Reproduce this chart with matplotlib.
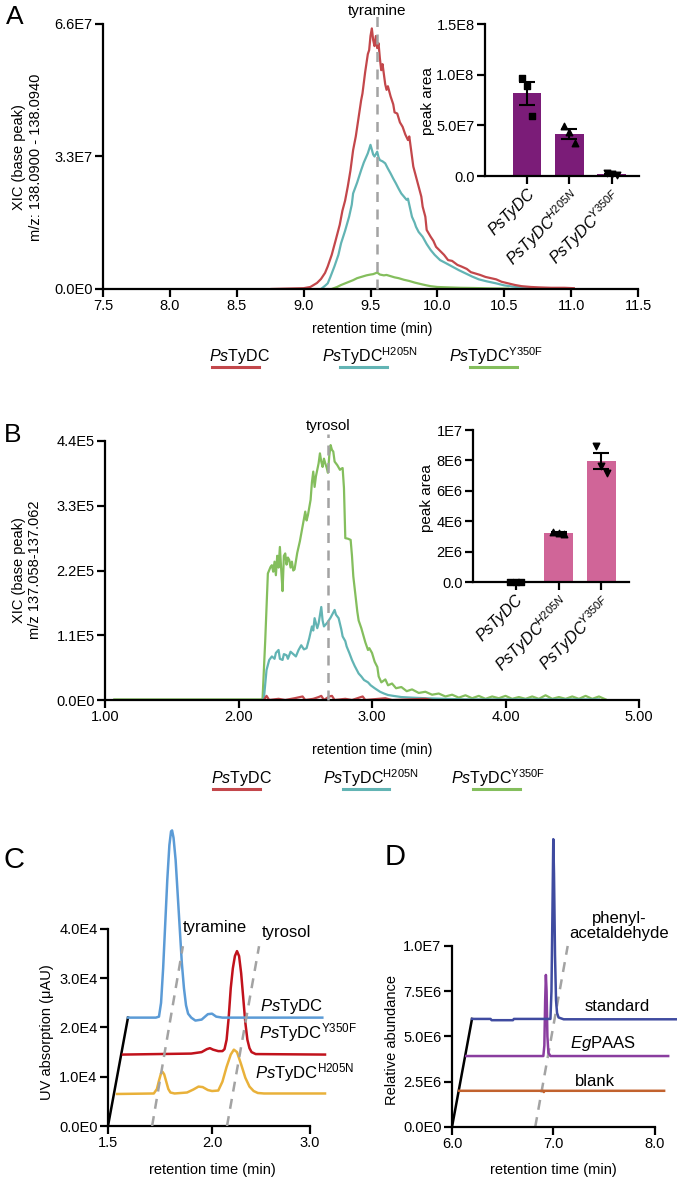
import numpy as np
import matplotlib
matplotlib.use('Agg')
import matplotlib.pyplot as plt
from matplotlib.lines import Line2D

plt.rcParams['font.family'] = ['Liberation Sans', 'DejaVu Sans']
plt.rcParams['mathtext.fontset'] = 'custom'
plt.rcParams['mathtext.rm'] = 'Liberation Sans'
plt.rcParams['mathtext.it'] = 'Liberation Sans:italic'
plt.rcParams['mathtext.bf'] = 'Liberation Sans:bold'

# ---------------- data ----------------
# panel A: XIC traces (time in min, intensity in 1E7)
a_red = [(8.76, 0.00), (9.00, 0.02), (9.05, 0.05), (9.10, 0.15), (9.13, 0.25), (9.16, 0.40), (9.18, 0.56),
         (9.21, 0.85), (9.24, 1.22), (9.27, 1.60), (9.29, 1.95), (9.31, 2.20), (9.33, 2.55), (9.35, 2.95),
         (9.37, 3.46), (9.39, 3.80), (9.41, 4.25), (9.43, 4.70), (9.44, 4.87), (9.46, 5.40), (9.48, 5.85),
         (9.49, 5.95), (9.50, 6.30), (9.51, 6.49), (9.52, 6.20), (9.53, 6.05), (9.54, 6.30), (9.55, 6.00),
         (9.56, 6.12), (9.57, 5.75), (9.58, 5.45), (9.59, 5.60), (9.61, 5.10), (9.62, 4.96), (9.63, 5.05),
         (9.65, 4.80), (9.67, 4.60), (9.68, 4.40), (9.70, 4.37), (9.72, 4.15), (9.74, 4.04), (9.76, 3.85),
         (9.78, 3.71), (9.79, 3.80), (9.81, 3.30), (9.82, 3.05), (9.84, 2.80), (9.86, 2.55), (9.88, 2.30),
         (9.89, 2.05), (9.91, 1.80), (9.92, 1.47), (9.95, 1.30), (9.97, 1.20), (9.99, 1.05), (10.02, 0.95),
         (10.05, 0.85), (10.08, 0.72), (10.11, 0.70), (10.15, 0.60), (10.18, 0.56), (10.22, 0.50),
         (10.25, 0.42), (10.28, 0.39), (10.32, 0.35), (10.36, 0.30), (10.40, 0.27), (10.44, 0.24),
         (10.48, 0.18), (10.53, 0.14), (10.58, 0.10), (10.63, 0.07), (10.70, 0.05), (10.76, 0.04),
         (10.85, 0.03), (10.95, 0.03), (11.02, 0.02)]
a_teal = [(9.13, 0.00), (9.16, 0.08), (9.18, 0.14), (9.20, 0.30), (9.23, 0.56), (9.26, 0.85), (9.28, 1.14),
          (9.31, 1.45), (9.34, 1.80), (9.36, 2.10), (9.37, 2.38), (9.40, 2.65), (9.43, 2.96), (9.45, 3.15),
          (9.48, 3.38), (9.50, 3.59), (9.52, 3.35), (9.53, 3.30), (9.55, 3.42), (9.56, 3.28), (9.57, 3.21),
          (9.59, 3.18), (9.61, 3.13), (9.63, 3.00), (9.65, 2.88), (9.67, 2.75), (9.69, 2.63), (9.71, 2.50),
          (9.73, 2.38), (9.75, 2.30), (9.77, 2.22), (9.78, 2.25), (9.80, 1.95), (9.81, 1.80), (9.83, 1.65),
          (9.84, 1.55), (9.86, 1.42), (9.89, 1.30), (9.92, 1.12), (9.95, 0.97), (9.98, 0.85), (10.02, 0.72),
          (10.06, 0.65), (10.11, 0.56), (10.16, 0.47), (10.21, 0.39), (10.26, 0.31), (10.31, 0.24),
          (10.37, 0.19), (10.44, 0.14), (10.50, 0.09), (10.56, 0.06), (10.63, 0.04), (10.70, 0.03)]
a_green = [(9.21, 0.00), (9.25, 0.05), (9.28, 0.10), (9.31, 0.14), (9.34, 0.18), (9.37, 0.22), (9.40, 0.27),
           (9.43, 0.30), (9.47, 0.34), (9.50, 0.36), (9.52, 0.37), (9.55, 0.41), (9.57, 0.36), (9.60, 0.34),
           (9.62, 0.35), (9.65, 0.32), (9.68, 0.29), (9.71, 0.27), (9.75, 0.23), (9.79, 0.20), (9.83, 0.16),
           (9.88, 0.12), (9.92, 0.09), (9.95, 0.07), (10.00, 0.05), (10.08, 0.04), (10.17, 0.03),
           (10.27, 0.025), (10.40, 0.015), (10.53, 0.01)]
a_xticks = [7.5, 8.0, 8.5, 9.0, 9.5, 10.0, 10.5, 11.0, 11.5]
a_yticks = [0, 3.3e7, 6.6e7]
a_ylabels = ['0.0E0', '3.3E7', '6.6E7']

# panel A inset: peak areas (three replicates each)
enzymes = ['PsTyDC', 'PsTyDC$^{\\mathit{H205N}}$', 'PsTyDC$^{\\mathit{Y350F}}$']
a_reps = [[9.7e7, 8.9e7, 5.9e7], [4.9e7, 4.3e7, 3.25e7], [0.25e7, 0.15e7, 0.10e7]]
ia_yticks = [0, 5e7, 1e8, 1.5e8]
ia_ylabels = ['0.0', '5.0E7', '1.0E8', '1.5E8']

# panel B: XIC traces (time in min, intensity in 1E5)
b_green = [(1.07, 0.01), (2.18, 0.01), (2.20, 1.00), (2.22, 2.15), (2.24, 2.26), (2.25, 2.29), (2.26, 2.18),
           (2.27, 2.35), (2.28, 2.12), (2.29, 2.45), (2.30, 2.25), (2.31, 2.60), (2.32, 2.21), (2.33, 1.85),
           (2.34, 2.45), (2.35, 2.49), (2.36, 2.30), (2.37, 2.42), (2.38, 2.38), (2.39, 2.25), (2.40, 2.35),
           (2.41, 2.20), (2.42, 2.22), (2.44, 2.50), (2.46, 2.70), (2.48, 2.95), (2.50, 3.20), (2.51, 3.05),
           (2.52, 3.14), (2.54, 3.40), (2.55, 3.70), (2.56, 3.88), (2.57, 3.62), (2.58, 3.80), (2.60, 4.02),
           (2.61, 4.19), (2.62, 4.05), (2.63, 3.96), (2.64, 4.10), (2.65, 4.02), (2.66, 3.95), (2.67, 3.86),
           (2.68, 4.15), (2.69, 4.33), (2.70, 4.25), (2.71, 4.22), (2.72, 4.05), (2.74, 3.99), (2.76, 3.91),
           (2.77, 3.93), (2.78, 3.94), (2.79, 3.60), (2.80, 2.75), (2.82, 2.74), (2.84, 2.72), (2.85, 2.45),
           (2.86, 2.10), (2.88, 1.70), (2.89, 1.50), (2.90, 1.35), (2.92, 1.22), (2.93, 1.14), (2.95, 0.98),
           (2.97, 0.85), (2.98, 0.88), (3.00, 0.80), (3.02, 0.65), (3.04, 0.56), (3.05, 0.40), (3.07, 0.30),
           (3.10, 0.35), (3.12, 0.25), (3.15, 0.28), (3.18, 0.20), (3.22, 0.22), (3.26, 0.15), (3.30, 0.18),
           (3.35, 0.12), (3.40, 0.14), (3.45, 0.09), (3.50, 0.11), (3.55, 0.06), (3.60, 0.09), (3.65, 0.04),
           (3.70, 0.08), (3.75, 0.03), (3.80, 0.07), (3.85, 0.02), (3.90, 0.06), (3.95, 0.03), (4.00, 0.07),
           (4.05, 0.02), (4.10, 0.05), (4.15, 0.02), (4.20, 0.06), (4.25, 0.02), (4.30, 0.08), (4.35, 0.02),
           (4.40, 0.05), (4.45, 0.02), (4.50, 0.06), (4.55, 0.02), (4.60, 0.07), (4.65, 0.02), (4.70, 0.06),
           (4.75, 0.01)]
b_teal = [(2.18, 0.00), (2.19, 0.02), (2.21, 0.51), (2.23, 0.68), (2.25, 0.74), (2.27, 0.70), (2.28, 0.80),
          (2.30, 0.85), (2.31, 0.70), (2.33, 0.68), (2.34, 0.78), (2.36, 0.76), (2.37, 0.70), (2.39, 0.82),
          (2.41, 0.78), (2.43, 0.74), (2.45, 0.85), (2.47, 0.93), (2.49, 0.86), (2.51, 0.88), (2.53, 1.05),
          (2.55, 1.25), (2.56, 1.18), (2.57, 1.39), (2.59, 1.22), (2.60, 1.30), (2.62, 1.58), (2.63, 1.35),
          (2.64, 1.25), (2.66, 1.30), (2.67, 1.33), (2.69, 1.40), (2.72, 1.53), (2.73, 1.45), (2.75, 1.39),
          (2.77, 1.20), (2.78, 1.08), (2.80, 1.00), (2.81, 0.91), (2.83, 0.80), (2.85, 0.68), (2.87, 0.58),
          (2.90, 0.45), (2.92, 0.40), (2.94, 0.34), (2.97, 0.30), (2.99, 0.25), (3.02, 0.20), (3.06, 0.14),
          (3.09, 0.11), (3.12, 0.085), (3.16, 0.07), (3.22, 0.05), (3.30, 0.04), (3.40, 0.03), (3.55, 0.02),
          (3.70, 0.01), (4.70, 0.01)]
b_red = [(2.19, 0.00), (2.21, 0.07), (2.23, 0.00), (2.30, 0.02), (2.35, 0.00), (2.42, 0.03), (2.48, 0.06),
         (2.50, 0.00), (2.56, 0.02), (2.60, 0.05), (2.62, 0.07), (2.64, 0.00), (2.68, 0.06), (2.70, 0.07),
         (2.72, 0.00), (2.80, 0.02), (2.85, 0.00), (2.93, 0.06), (2.95, 0.00), (3.10, 0.03), (3.15, 0.00),
         (3.40, 0.02), (3.45, 0.00)]
b_xticks = [1.0, 2.0, 3.0, 4.0, 5.0]
b_xlabels = ['1.00', '2.00', '3.00', '4.00', '5.00']
b_yticks = [0, 1.1e5, 2.2e5, 3.3e5, 4.4e5]
b_ylabels = ['0.0E0', '1.1E5', '2.2E5', '3.3E5', '4.4E5']

# panel B inset
b_reps = [[0.0, 0.0, 0.0], [3.32e6, 3.22e6, 3.15e6], [8.97e6, 7.65e6, 7.2e6]]
ib_yticks = [0, 2e6, 4e6, 6e6, 8e6, 1e7]
ib_ylabels = ['0.0', '2E6', '4E6', '6E6', '8E6', '1E7']

# panel C: UV traces, stacked (time in min, absorbance in 1E4 uAU)
c_blue = [(1.596, 2.20), (1.73, 2.20), (1.745, 2.22), (1.755, 2.50), (1.765, 3.20), (1.775, 4.10),
          (1.785, 5.00), (1.795, 5.70), (1.803, 5.98), (1.808, 6.00), (1.815, 5.85), (1.825, 5.40),
          (1.835, 4.70), (1.845, 4.00), (1.855, 3.30), (1.865, 2.80), (1.875, 2.45), (1.885, 2.28),
          (1.90, 2.20), (1.92, 2.14), (1.95, 2.16), (1.98, 2.27), (2.00, 2.28), (2.02, 2.22), (2.05, 2.20),
          (2.53, 2.20)]
c_red = [(1.572, 1.45), (1.90, 1.47), (1.95, 1.50), (1.975, 1.56), (1.99, 1.58), (2.005, 1.55), (2.03, 1.52),
         (2.05, 1.52), (2.06, 1.56), (2.07, 1.75), (2.08, 2.20), (2.09, 2.80), (2.10, 3.20), (2.11, 3.45),
         (2.12, 3.55), (2.13, 3.45), (2.14, 3.10), (2.15, 2.60), (2.16, 2.10), (2.17, 1.75), (2.18, 1.58),
         (2.19, 1.50), (2.21, 1.46), (2.543, 1.45)]
c_yellow = [(1.543, 0.65), (1.72, 0.66), (1.735, 0.75), (1.745, 0.92), (1.755, 1.07), (1.762, 1.10),
            (1.77, 1.05), (1.78, 0.90), (1.79, 0.75), (1.80, 0.68), (1.82, 0.66), (1.88, 0.68), (1.91, 0.74),
            (1.935, 0.80), (1.955, 0.79), (1.98, 0.73), (2.00, 0.71), (2.03, 0.72), (2.05, 0.90), (2.07, 1.20),
            (2.09, 1.45), (2.105, 1.55), (2.12, 1.50), (2.14, 1.25), (2.16, 0.98), (2.18, 0.80), (2.20, 0.71),
            (2.22, 0.67), (2.25, 0.66), (2.543, 0.66)]
c_offset = [(1.5, 0.0), (1.596, 2.20)]
c_tyramine = [(1.712, 0.0), (1.86, 3.65)]
c_tyrosol = [(2.072, 0.0), (2.226, 3.65)]
c_xticks = [1.5, 2.0, 2.47]
c_xlabels = ['1.5', '2.0', '3.0']
c_yticks = [0, 1e4, 2e4, 3e4, 4e4]
c_ylabels = ['0.0E0', '1.0E4', '2.0E4', '3.0E4', '4.0E4']

# panel D: GC-MS traces, stacked (time in min, abundance in 1E6)
d_standard = [(6.197, 5.97), (6.38, 5.97), (6.39, 5.90), (6.60, 5.90), (6.61, 5.97), (6.97, 5.97),
              (6.98, 7.5), (6.99, 12.0), (6.998, 15.9), (7.005, 14.0), (7.015, 9.5), (7.025, 7.0),
              (7.035, 6.3), (7.05, 6.05), (7.10, 5.95), (8.22, 5.95)]
d_egpaas = [(6.14, 3.92), (6.90, 3.92), (6.91, 4.5), (6.918, 7.0), (6.925, 8.4), (6.932, 7.5), (6.94, 5.0),
            (6.95, 4.1), (6.97, 3.92), (8.13, 3.92)]
d_blank = [(6.07, 2.0), (6.90, 2.0), (6.905, 1.93), (6.91, 2.0), (8.09, 2.0)]
d_offset = [(6.0, 0.0), (6.197, 5.97)]
d_marker = [(6.82, 0.0), (7.14, 10.0)]
d_xticks = [6.0, 7.0, 8.0]
d_yticks = [0, 2.5e6, 5e6, 7.5e6, 1e7]
d_ylabels = ['0.0E0', '2.5E6', '5.0E6', '7.5E6', '1.0E7']

RED, TEAL, GREEN = '#c3474b', '#62b4b4', '#84be5d'
GREY = '#a3a3a3'

# ---------------- layout helpers ----------------
W, H = 677, 1180
fig = plt.figure(figsize=(W / 100, H / 100), dpi=100)


def box(x0, y0, x1, y1):
    return [x0 / W, 1 - y1 / H, (x1 - x0) / W, (y1 - y0) / H]


def style(ax, size, lw=1.6):
    for s in ('top', 'right'):
        ax.spines[s].set_visible(False)
    for s in ('left', 'bottom'):
        ax.spines[s].set_linewidth(lw)
    ax.tick_params(direction='out', length=5.5, width=lw, pad=2, labelsize=size)
    ax.patch.set_alpha(0)


def xlab(ax, text, x, y, size):
    ax.set_xlabel(text, fontsize=size)
    ax.xaxis.set_label_coords(x / W, 1 - y / H, transform=fig.transFigure)
    ax.xaxis.label.set_va('center')


def ylab(ax, text, x, y, size):
    ax.set_ylabel(text, fontsize=size)
    ax.yaxis.set_label_coords(x / W, 1 - y / H, transform=fig.transFigure)
    ax.yaxis.label.set(va='center', ha='center')


def ftext(x, y, s, **kw):
    fig.text(x / W, 1 - y / H, s, **kw)


def legend_row(y_text, items):
    # items: (label, text centre x, line x0, line x1, colour)
    for label, xc, l0, l1, col in items:
        ftext(xc, y_text, label, fontsize=11.5, ha='center', va='center')
        fig.add_artist(Line2D([l0 / W, l1 / W], [1 - (y_text + 11) / H] * 2, color=col, lw=2.2))


def inset(ax, reps, colour, markers, yticks, ylabels, ylim):
    x = np.arange(len(reps))
    reps = np.array(reps)
    means = reps.mean(axis=1)
    sem = reps.std(axis=1, ddof=1) / np.sqrt(reps.shape[1])
    ax.bar(x, means, width=0.68, color=colour, zorder=1)
    ax.errorbar(x, means, yerr=sem, fmt='none', ecolor='black', elinewidth=1.5, capsize=5.5,
                capthick=1.5, zorder=3)
    jitter = [-0.12, 0.0, 0.12]
    for i in range(len(reps)):
        ax.scatter(x[i] + np.array(jitter), reps[i], marker=markers[i], s=22, color='black',
                   zorder=4, clip_on=False)
    ax.set_xlim(-0.99, 2.64)
    ax.set_ylim(*ylim)
    ax.set_yticks(yticks)
    ax.set_yticklabels(ylabels)
    ax.set_xticks(x)
    ax.set_xticklabels(enzymes, rotation=45, ha='right', rotation_mode='anchor',
                       fontsize=11.5, fontstyle='italic')


def xy(series):
    arr = np.array(series)
    return arr[:, 0], arr[:, 1]


# ---------------- panel A ----------------
axA = fig.add_axes(box(103, 24, 638, 289))
style(axA, 10.5)
for ser, col in ((a_green, GREEN), (a_teal, TEAL), (a_red, RED)):
    t, v = xy(ser)
    axA.plot(t, v * 1e7, color=col, lw=1.6)
axA.plot([9.55, 9.55], [0, 6.8e7], color=GREY, lw=1.8, ls=(0, (4, 3)), clip_on=False, zorder=5)
axA.text(9.55, 6.93e7, 'tyramine', ha='center', va='center', fontsize=11)
axA.set_xlim(7.5, 11.5)
axA.set_ylim(0, 6.6e7)
axA.set_xticks(a_xticks)
axA.set_xticklabels([f'{v:.1f}' for v in a_xticks])
axA.set_yticks(a_yticks)
axA.set_yticklabels(a_ylabels)
xlab(axA, 'retention time (min)', 372, 329, 10)
ftext(19, 157, 'XIC (base peak)', rotation=90, ha='center', va='center', fontsize=10.5)
ftext(36, 157, 'm/z: 138.0900 - 138.0940', rotation=90, ha='center', va='center', fontsize=10.5)
ftext(15, 17, 'A', fontsize=19, ha='center', va='center')

legend_labels = ['$\\it{Ps}$TyDC', '$\\it{Ps}$TyDC$^{\\rm H205N}$', '$\\it{Ps}$TyDC$^{\\rm Y350F}$']
legend_row(356, [(legend_labels[0], 239, 212, 259, RED),
                 (legend_labels[1], 370, 340, 387, TEAL),
                 (legend_labels[2], 496, 470, 517, GREEN)])

axIA = fig.add_axes(box(485, 24, 639, 176))
style(axIA, 10.5)
inset(axIA, a_reps, '#7b1c78', ['s', '^', 'v'], ia_yticks, ia_ylabels, (0, 1.5e8))
ylab(axIA, 'peak area', 428, 101, 11)

# ---------------- panel B ----------------
axB = fig.add_axes(box(105, 441, 639, 700))
style(axB, 10.5)
for ser, col in ((b_green, GREEN), (b_teal, TEAL), (b_red, RED)):
    t, v = xy(ser)
    axB.plot(t, v * 1e5, color=col, lw=1.6)
axB.plot([2.67, 2.67], [0, 4.52e5], color=GREY, lw=1.8, ls=(0, (4, 3)), clip_on=False, zorder=5)
axB.text(2.67, 4.65e5, 'tyrosol', ha='center', va='center', fontsize=11)
axB.set_xlim(1.0, 5.0)
axB.set_ylim(0, 4.4e5)
axB.set_xticks(b_xticks)
axB.set_xticklabels(b_xlabels)
axB.set_yticks(b_yticks)
axB.set_yticklabels(b_ylabels)
xlab(axB, 'retention time (min)', 372, 750, 10)
ftext(19, 570, 'XIC (base peak)', rotation=90, ha='center', va='center', fontsize=10.5)
ftext(35, 570, 'm/z 137.058-137.062', rotation=90, ha='center', va='center', fontsize=10.5)
ftext(13, 435, 'B', fontsize=19, ha='center', va='center')
legend_row(778, [(legend_labels[0], 241, 213, 260, RED),
                 (legend_labels[1], 371, 343, 389, TEAL),
                 (legend_labels[2], 498, 473, 520, GREEN)])

axIB = fig.add_axes(box(473, 430, 629, 582))
style(axIB, 10.5)
inset(axIB, b_reps, '#d06598', ['s', '^', 'v'], ib_yticks, ib_ylabels, (0, 1e7))
ylab(axIB, 'peak area', 427, 498, 11)

# ---------------- panel C ----------------
axC = fig.add_axes(box(108, 825, 330, 1126))
style(axC, 10.5)
t, v = xy(c_offset)
axC.plot(t, v * 1e4, color='black', lw=1.8)
for ser in (c_tyramine, c_tyrosol):
    t, v = xy(ser)
    axC.plot(t, v * 1e4, color=GREY, lw=1.8, ls=(0, (4, 3)), zorder=5)
for ser, col in ((c_yellow, '#e9b13a'), (c_red, '#c1121c'), (c_blue, '#5b9bd6')):
    t, v = xy(ser)
    axC.plot(t, v * 1e4, color=col, lw=1.8, clip_on=False)
axC.set_xlim(1.5, 2.567)
axC.set_ylim(0, 6.11e4)
axC.spines['left'].set_bounds(0, 4e4)
axC.spines['bottom'].set_bounds(1.5, 2.47)
axC.set_xticks(c_xticks)
axC.set_xticklabels(c_xlabels)
axC.set_yticks(c_yticks)
axC.set_yticklabels(c_ylabels)
axC.text(1.86, 4.03e4, 'tyramine', fontsize=12, ha='left', va='center')
axC.text(2.24, 3.93e4, 'tyrosol', fontsize=12, ha='left', va='center')
axC.text(2.535, 2.42e4, '$\\it{Ps}$TyDC', fontsize=12, ha='right', va='center', clip_on=False)
axC.text(2.228, 1.89e4, '$\\it{Ps}$TyDC$^{\\rm Y350F}$', fontsize=12, ha='left', va='center')
axC.text(2.205, 1.08e4, '$\\it{Ps}$TyDC$^{\\rm H205N}$', fontsize=12, ha='left', va='center')
xlab(axC, 'retention time (min)', 212, 1170, 10.5)
ylab(axC, 'UV absorption (μAU)', 47, 1032, 10.5)
ftext(14, 860, 'C', fontsize=21, ha='center', va='center')

# ---------------- panel D ----------------
axD = fig.add_axes(box(452, 835, 677, 1127))
style(axD, 10.5)
t, v = xy(d_offset)
axD.plot(t, v * 1e6, color='black', lw=1.8)
t, v = xy(d_marker)
axD.plot(t, v * 1e6, color=GREY, lw=1.8, ls=(0, (4, 3)), zorder=1)
for ser, col in ((d_blank, '#c2622e'), (d_egpaas, '#8a3d9f'), (d_standard, '#3f4ba0')):
    t, v = xy(ser)
    axD.plot(t, v * 1e6, color=col, lw=1.8, clip_on=False)
axD.set_xlim(6.0, 8.217)
axD.set_ylim(0, 16.13e6)
axD.spines['left'].set_bounds(0, 1e7)
axD.spines['bottom'].set_bounds(6.0, 8.0)
axD.set_xticks(d_xticks)
axD.set_xticklabels([f'{v:.1f}' for v in d_xticks])
axD.set_yticks(d_yticks)
axD.set_yticklabels(d_ylabels)
axD.text(7.645, 11.1e6, 'phenyl-\nacetaldehyde', fontsize=12, ha='center', va='center',
         multialignment='center', linespacing=1.05)
axD.text(7.63, 6.63e6, 'standard', fontsize=12, ha='center', va='center')
axD.text(7.49, 4.59e6, '$\\it{Eg}$PAAS', fontsize=12, ha='center', va='center')
axD.text(7.41, 2.54e6, 'blank', fontsize=12, ha='center', va='center')
xlab(axD, 'retention time (min)', 553, 1170, 10.5)
ylab(axD, 'Relative abundance', 392, 1040, 10.5)
ftext(395, 857, 'D', fontsize=21, ha='center', va='center')

fig.savefig('out.png', dpi=100)
